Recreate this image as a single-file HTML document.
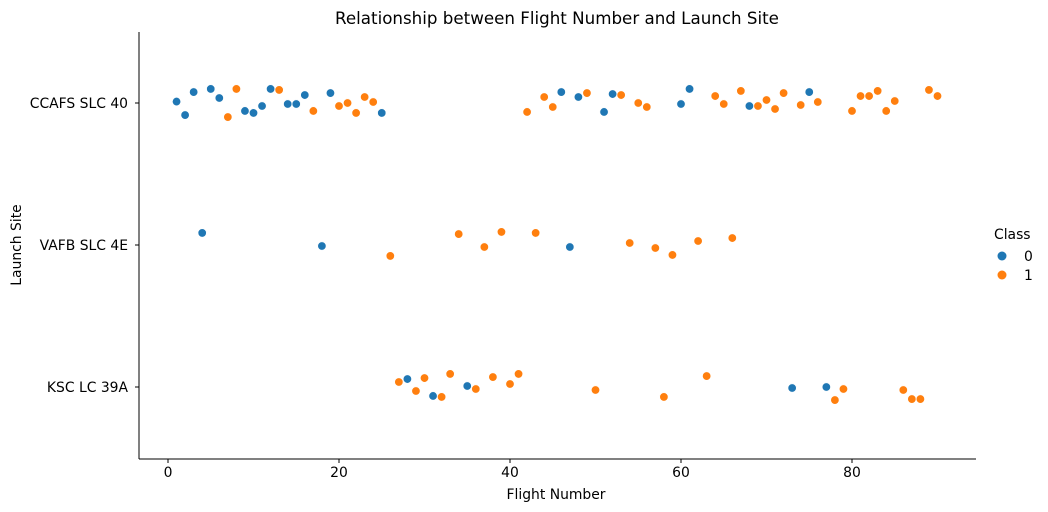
<!DOCTYPE html>
<html><head><meta charset="utf-8"><style>
body{margin:0;background:#fff;}
svg{display:block;font-family:"DejaVu Sans","Liberation Sans",sans-serif;}
</style></head><body>
<svg id="chart" width="1048" height="512">
<text x="557" y="24" text-anchor="middle" font-size="16.7" fill="#000">Relationship between Flight Number and Launch Site</text>
<text x="556" y="499" text-anchor="middle" font-size="13.9" fill="#000">Flight Number</text>
<text transform="translate(21,245) rotate(-90)" text-anchor="middle" font-size="13.9" fill="#000">Launch Site</text>
<g id="axes"></g>
<g id="marks"></g>
<g>
<text x="994" y="239" font-size="13.9">Class</text>
<circle cx="1002" cy="256" r="4.5" fill="#1f77b4"/>
<text x="1024" y="261" font-size="13.9">0</text>
<circle cx="1002" cy="275" r="4.5" fill="#ff7f0e"/>
<text x="1024" y="280" font-size="13.9">1</text>
</g>
</svg>
<script>
const sites = ["CCAFS SLC 40","VAFB SLC 4E","KSC LC 39A"];
const xTicks = [0,20,40,60,80];
const flights = [1,2,3,5,6,7,8,9,10,11,12,13,14,15,16,17,19,20,21,22,23,24,25,42,44,45,46,48,49,51,52,53,55,56,60,61,64,65,67,68,69,70,71,72,74,75,76,80,81,82,83,84,85,89,90,
4,18,26,34,37,39,43,47,54,57,59,62,66,
27,28,29,30,31,32,33,35,36,38,40,41,50,58,63,73,77,78,79,86,87,88];
const siteIdx = [0,0,0,0,0,0,0,0,0,0,0,0,0,0,0,0,0,0,0,0,0,0,0,0,0,0,0,0,0,0,0,0,0,0,0,0,0,0,0,0,0,0,0,0,0,0,0,0,0,0,0,0,0,0,0,
1,1,1,1,1,1,1,1,1,1,1,1,1,
2,2,2,2,2,2,2,2,2,2,2,2,2,2,2,2,2,2,2,2,2,2];
const cls = [0,0,0,0,0,1,1,0,0,0,0,1,0,0,0,1,0,1,1,1,1,1,0,1,1,1,0,0,1,0,0,1,1,1,0,0,1,1,1,0,1,1,1,1,1,0,1,1,1,1,1,1,1,1,1,
0,0,1,1,1,1,1,0,1,1,1,1,1,
1,0,1,1,0,1,1,0,1,1,1,1,1,1,1,0,0,1,1,1,1,1];
// jitter in category units
const jitter = [-0.01,0.085,-0.077,-0.099,-0.035,0.099,-0.099,0.056,0.07,0.021,-0.099,-0.092,0.007,0.007,-0.056,0.056,-0.07,0.021,0,0.07,-0.042,-0.007,0.07,0.063,-0.042,0.028,-0.077,-0.042,-0.07,0.063,-0.063,-0.056,0,0.028,0.007,-0.099,-0.049,0.007,-0.085,0.021,0.021,-0.021,0.042,-0.07,0.014,-0.077,-0.007,0.056,-0.049,-0.049,-0.085,0.056,-0.014,-0.092,-0.049,
-0.085,0.007,0.077,-0.077,0.014,-0.092,-0.085,0.014,-0.014,0.021,0.07,-0.028,-0.049,
-0.035,-0.056,0.028,-0.063,0.063,0.07,-0.092,-0.007,0.014,-0.07,-0.021,-0.092,0.021,0.07,-0.077,0.007,0,0.092,0.014,0.021,0.085,0.085];

const NS="http://www.w3.org/2000/svg";
const L=139,R=976,T=32,B=459;
const xScale=v=>168+v*(684/80);
const yScale=c=>103+c*142;
const axes=document.getElementById('axes'), marks=document.getElementById('marks');
function mk(tag,attrs,parent){const e=document.createElementNS(NS,tag);for(const k in attrs)e.setAttribute(k,attrs[k]);parent.appendChild(e);return e;}
let sp=mk('line',{x1:L,y1:T,x2:L,y2:B,stroke:'#000','stroke-width':1},axes);


sp=mk('line',{x1:L,y1:B,x2:R,y2:B,stroke:'#000','stroke-width':1},axes);


xTicks.forEach(t=>{const x=xScale(t);
 const tk=mk('line',{x1:x,y1:B,x2:x,y2:B+4,stroke:'#000'},axes);
 
 
 const tx=mk('text',{x:x,y:B+18,'text-anchor':'middle','font-size':13.9},axes);tx.textContent=t;
 
 
});
sites.forEach((s,i)=>{const y=yScale(i);
 const tk=mk('line',{x1:L-4,y1:y,x2:L,y2:y,stroke:'#000'},axes);
 
 
 const tx=mk('text',{x:L-11,y:y+5,'text-anchor':'end','font-size':13.9},axes);tx.textContent=s;
 
 
});
flights.forEach((f,i)=>{
 const c=mk('circle',{cx:xScale(f),cy:yScale(siteIdx[i]+jitter[i]),r:4.2,fill:cls[i]?'#ff7f0e':'#1f77b4',stroke:'#fff','stroke-width':0.6},marks);
 
 
});
</script>
</body></html>
